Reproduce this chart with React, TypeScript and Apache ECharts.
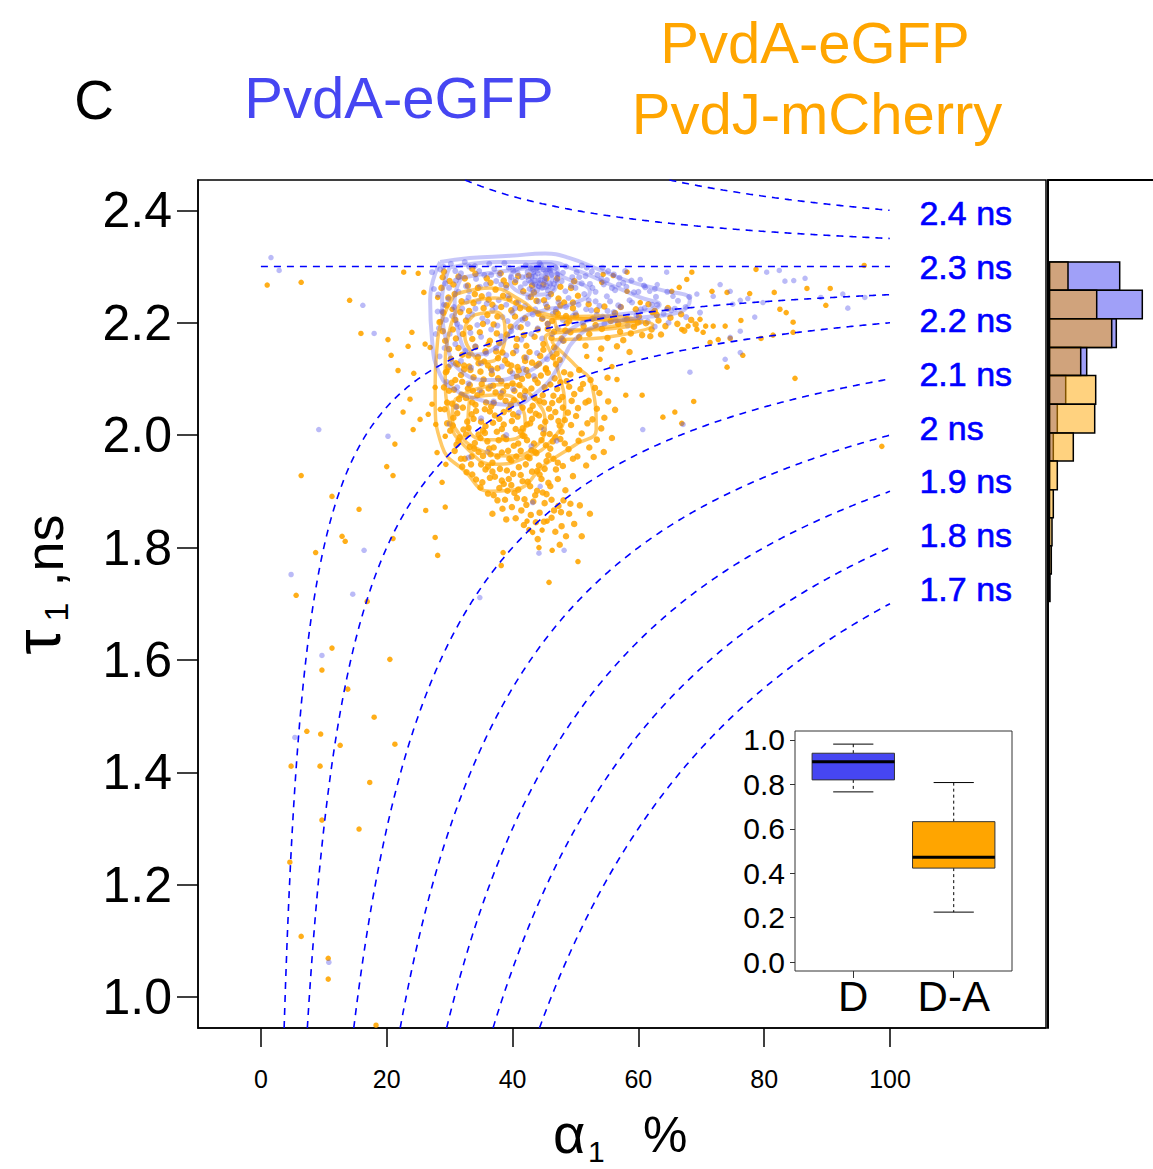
import React, { useEffect, useRef } from "react";
import * as echarts from "echarts";

// ---------- axes ----------
const X_MIN = -10;
const X_MAX = 124.8;
const Y_MIN = 0.945;
const Y_MAX = 2.454;
const xTicks = [0, 20, 40, 60, 80, 100];
const yTicks = [1.0, 1.2, 1.4, 1.6, 1.8, 2.0, 2.2, 2.4];

// ---------- iso-lifetime reference curves (tau_mean = a*tau1 + (1-a)*tau2) ----------
const tau2 = 2.3;
const lifetimeLevels = [2.4, 2.35, 2.3, 2.25, 2.2, 2.1, 2.0, 1.9, 1.8, 1.7];
const lifetimeLabels = ["2.4 ns", "2.3 ns", "2.2 ns", "2.1 ns", "2 ns", "1.9 ns", "1.8 ns", "1.7 ns"];
const lifetimeLabelY = [2.396, 2.3, 2.204, 2.108, 2.013, 1.918, 1.822, 1.727];
const lifetimeLabelX = 104.6;

// ---------- marginal histogram ----------
const histBinEdges = [2.308, 2.258, 2.207, 2.156, 2.106, 2.055, 2.004, 1.954, 1.903, 1.853, 1.803, 1.753, 1.704];
const histBlue = [71.7, 94.3, 68.3, 38.7, 17.7, 9.3, 5.3, 1.5, 0, 0, 0, 0];
const histOrange = [20, 48.7, 63.7, 32.7, 47.7, 46.7, 25.3, 9.3, 5.3, 4, 3.3, 2];

// ---------- inset boxplot ----------
const boxCategories = ["D", "D-A"];
const boxStats = [
  [0.766, 0.82, 0.902, 0.94, 0.981],
  [0.225, 0.423, 0.472, 0.632, 0.808],
];
const boxTicks = [0, 0.2, 0.4, 0.6, 0.8, 1.0];

// ---------- scatter: PvdA-eGFP + PvdJ-mCherry (orange) ----------
const orangeSparse = [
  [11.3,1.891],[15.6,1.868],[12.9,1.82],[13.4,1.811],[8.7,1.791],[21.0,1.816],[27.7,1.818],[28.1,1.786],[26.2,1.866],[29.3,1.872],[28.8,1.916],
  [5.6,1.715],[16.9,1.704],[11.3,1.621],[20.5,1.601],[9.7,1.582],[13.8,1.548],[18.0,1.498],[7.3,1.473],[9.5,1.468],[12.6,1.448],[21.3,1.45],
  [4.8,1.411],[9.4,1.411],[17.3,1.382],[9.7,1.315],[15.6,1.299],[4.6,1.24],[6.4,1.108],[10.7,1.069],[10.7,1.032],[18.3,0.95],
  [38.2,1.768],[38.5,1.791],[45.8,1.738],[50.4,1.775],[44.2,1.8],[46.3,1.795],[45.5,1.847],[44.7,1.831],[42.6,1.832],[43.2,1.827],[42.3,1.847],
  [1.0,2.267],[6.4,2.272],[14.1,2.24],[15.9,2.181],[20.2,2.17],[20.7,2.142],[23.4,2.158],[21.8,2.115],[24.3,2.11],[6.4,1.928],[21.3,1.984],
  [20.0,1.944],[21.0,1.928],[22.6,2.041],[24.2,2.01],
  [22.7,2.29],[25.0,2.288],[25.9,2.254],[28.1,2.245],[30.4,2.224],[28.5,2.202],[26.9,2.156],[24.0,2.183],[26.1,2.162],[29.6,2.114],[27.7,2.085],
  [27.2,2.055],[28.5,2.046],[26.6,2.037],[27.8,2.019],[29.3,1.998],[28.0,1.969],[29.4,1.948],[25.3,2.028],[23.7,2.064],
  [95.9,2.302],[78.7,2.295],[90.5,2.261],[86.8,2.261],[81.6,2.254],[77.7,2.252],[74.1,2.254],[71.7,2.256],[89.8,2.231],[83.5,2.218],[82.5,2.224],
  [84.6,2.201],[84.6,2.183],[81.4,2.178],[79.5,2.172],[76.3,2.204],[76.6,2.142],[73.8,2.194],[74.6,2.172],[71.9,2.194],[70.7,2.194],[69.8,2.206],
  [84.9,2.101],[74.1,2.121],[68.8,2.06],[63.9,2.032],[65.8,2.041],[66.9,2.021],[58.0,2.071],[60.6,2.071],[56.6,2.099],[55.8,2.122],[53.9,2.135],
  [51.8,2.14],[68.5,2.29],[67.7,2.277],[66.5,2.263],[65.3,2.256],[58.2,2.29],[56.0,2.284],[54.4,2.286],[54.2,2.272],[58.2,2.256],[60.3,2.236],
  [62.2,2.218],[67.9,2.194],[66.9,2.188],[69.3,2.188],[70.3,2.183],[71.4,2.165],[72.7,2.17],[98.7,1.98],
];
const orangeCore = [
  [29.4,2.112],[30.9,2.098],[32.3,2.117],[33.8,2.103],[35.1,2.091],[36.7,2.109],[38.2,2.096],[39.6,2.114],[41.1,2.089],[42.5,2.106],[44.0,2.093],[45.6,2.111],[47.1,2.082],
  [29.9,2.079],[31.5,2.064],[32.9,2.083],[34.4,2.071],[35.8,2.058],[37.3,2.076],[38.9,2.061],[40.3,2.079],[41.8,2.066],[43.2,2.052],[44.8,2.071],[46.3,2.057],[47.9,2.068],
  [29.2,2.046],[30.6,2.031],[32.1,2.049],[33.5,2.037],[35.0,2.024],[36.4,2.042],[37.9,2.029],[39.4,2.046],[40.8,2.033],[42.3,2.019],[43.7,2.038],[45.2,2.024],[46.8,2.041],[48.3,2.027],
  [30.1,2.008],[31.6,1.996],[33.0,2.013],[34.6,2.001],[36.0,1.989],[37.5,2.006],[39.0,1.993],[40.5,2.011],[41.9,1.998],[43.4,1.985],[44.9,2.003],[46.4,1.989],[47.8,2.006],
  [30.8,1.972],[32.4,1.958],[33.9,1.976],[35.3,1.963],[36.8,1.951],[38.3,1.969],[39.8,1.955],[41.3,1.972],[42.7,1.959],[44.2,1.946],[45.7,1.964],[47.2,1.951],
  [32.7,1.934],[34.2,1.921],[35.7,1.939],[37.2,1.926],[38.6,1.913],[40.1,1.931],[41.6,1.918],[43.1,1.935],[44.6,1.922],[46.0,1.909],
  [36.1,1.896],[37.6,1.884],[39.2,1.901],[40.7,1.888],[42.2,1.876],[43.6,1.893],[45.1,1.879],[46.6,1.866],[48.1,1.884],
  [30.3,2.093],[31.8,2.107],[33.2,2.089],[34.9,2.113],[36.2,2.083],[37.7,2.101],[39.1,2.087],[40.7,2.104],[42.0,2.078],[43.6,2.099],[45.1,2.085],[46.7,2.101],
  [30.4,2.056],[31.9,2.072],[33.6,2.058],[35.1,2.076],[36.6,2.051],[38.1,2.068],[39.7,2.055],[41.2,2.071],[42.8,2.044],[44.3,2.061],[45.8,2.047],[47.4,2.062],
  [29.6,2.021],[31.2,2.039],[32.8,2.024],[34.2,2.043],[35.7,2.016],[37.2,2.035],[38.6,2.019],[40.1,2.037],[41.6,2.012],[43.1,2.029],[44.5,2.014],[46.1,2.032],[47.5,2.017],
  [31.1,1.983],[32.6,2.001],[34.0,1.986],[35.6,2.004],[37.0,1.978],[38.6,1.996],[40.2,1.981],[41.6,1.999],[43.0,1.973],[44.6,1.991],[46.0,1.976],[47.6,1.993],
  [32.0,1.944],[33.5,1.962],[35.0,1.948],[36.5,1.966],[38.0,1.94],[39.5,1.958],[41.0,1.943],[42.4,1.961],[43.9,1.936],[45.4,1.954],[46.9,1.939],
  [34.9,1.907],[36.4,1.924],[37.9,1.906],[39.4,1.922],[40.9,1.903],[42.4,1.917],[43.9,1.901],[45.4,1.895],
  [29.8,2.121],[31.3,2.126],[33.1,2.122],[34.6,2.128],[36.1,2.124],[37.6,2.119],[39.2,2.127],[40.8,2.121],[42.2,2.116],[43.8,2.124],[45.3,2.119],[46.9,2.126],[48.2,2.112],
  [29.1,2.085],[30.7,2.081],[32.0,2.095],[33.7,2.079],[35.4,2.099],[36.9,2.088],[38.5,2.078],[40.0,2.092],[41.5,2.1],[43.0,2.083],[44.5,2.106],[46.0,2.09],[47.6,2.094],[49.0,2.086],
  [29.6,2.058],[31.1,2.051],[32.6,2.066],[34.1,2.054],[35.6,2.046],[37.0,2.057],[38.6,2.041],[40.2,2.062],[41.6,2.049],[43.5,2.066],[45.0,2.058],[46.5,2.07],[48.0,2.049],[49.4,2.061],
  [30.5,2.017],[32.2,2.01],[33.8,2.029],[35.3,2.008],[36.9,2.022],[38.3,2.011],[39.9,2.025],[41.3,2.006],[42.8,2.021],[44.2,2.035],[45.9,2.002],[47.3,2.025],[48.8,2.04],
  [31.4,1.99],[33.2,1.979],[34.9,1.995],[36.3,1.976],[37.8,1.991],[39.3,1.972],[40.9,1.985],[42.3,1.991],[43.8,1.968],[45.3,1.982],[46.8,1.996],[48.3,1.985],
  [31.8,1.958],[33.4,1.948],[34.6,1.97],[36.1,1.944],[37.6,1.962],[39.1,1.937],[40.6,1.962],[42.1,1.948],[43.6,1.97],[45.1,1.94],[46.5,1.958],[48.0,1.945],
  [33.6,1.93],[35.2,1.916],[36.8,1.935],[38.3,1.919],[39.8,1.911],[41.3,1.929],[42.8,1.909],[44.3,1.93],[45.7,1.915],[47.2,1.922],
  [37.0,1.893],[38.8,1.885],[40.3,1.897],[41.9,1.886],[43.3,1.882],[44.8,1.898],[46.2,1.885],[47.7,1.863],[49.2,1.878],
  [48.6,2.096],[49.8,2.073],[51.2,2.091],[50.4,2.048],[52.1,2.061],[49.3,2.018],[51.0,2.003],[52.7,2.028],[48.9,1.975],[50.3,1.962],[53.4,1.992],
  [54.6,2.031],[53.8,2.075],[55.1,2.102],[51.7,1.946],[49.6,1.927],[48.4,1.902],[47.3,1.874],[46.2,1.853],[44.3,1.862],[42.9,1.858],[41.4,1.866],
  [39.9,1.872],[38.4,1.869],[45.0,1.846],[47.8,1.838],[49.0,1.86],
  [49.2,2.108],[50.6,2.116],[52.4,2.098],[50.8,2.082],[53.1,2.084],[51.6,2.058],[53.4,2.047],[50.1,2.034],[51.9,2.021],[54.1,2.012],[50.5,1.99],
  [52.2,1.978],[49.6,1.958],[52.9,1.961],[55.2,2.06],[56.3,2.045],[55.8,1.995],[54.5,1.97],
  [40.5,1.852],[43.7,1.845],[46.8,1.828],[48.5,1.82],[44.0,1.815],[41.8,1.84],[47.5,1.805],[49.8,1.842],[51.0,1.82],[39.0,1.85],[36.8,1.86],[52.3,1.86],[50.7,1.875],
];
const orangeUpper = [
  [29.1,2.291],[31.4,2.282],[33.6,2.296],[35.9,2.279],[38.1,2.288],[40.4,2.272],[42.6,2.284],[44.9,2.268],[47.1,2.279],[49.3,2.262],
  [28.7,2.262],[30.8,2.251],[32.9,2.266],[35.1,2.247],[37.3,2.259],[39.5,2.243],[41.7,2.256],[43.8,2.239],[46.1,2.251],[48.2,2.236],[50.4,2.248],
  [29.5,2.231],[31.7,2.219],[33.8,2.235],[36.0,2.214],[38.2,2.228],[40.4,2.211],[42.6,2.224],[44.7,2.207],[46.9,2.219],[49.0,2.203],
  [28.4,2.201],[30.5,2.188],[32.6,2.204],[34.8,2.183],[37.0,2.197],[39.1,2.179],[41.3,2.192],[43.5,2.175],[45.6,2.189],[47.8,2.172],
  [29.3,2.168],[31.4,2.155],[33.6,2.171],[35.7,2.149],[37.9,2.164],[40.1,2.146],[42.2,2.159],[44.4,2.141],[46.6,2.156],
  [30.2,2.136],[32.3,2.124],[34.5,2.139],[36.6,2.118],[38.8,2.133],[41.0,2.115],[43.1,2.129],[45.3,2.117],[47.5,2.134],
  [30.0,2.274],[34.5,2.262],[39.0,2.267],[43.4,2.254],[36.8,2.232],[41.2,2.226],[45.5,2.228],[32.1,2.18],[36.4,2.168],[40.7,2.171],[44.9,2.162],
  [33.0,2.142],[37.4,2.149],[41.9,2.138],
  [28.9,2.281],[30.6,2.268],[32.4,2.279],[34.1,2.287],[36.5,2.271],[38.6,2.275],[40.9,2.283],[43.1,2.266],[45.4,2.279],[47.6,2.264],[49.8,2.274],
  [29.8,2.245],[31.9,2.238],[34.0,2.251],[36.2,2.241],[38.5,2.248],[40.6,2.236],[42.9,2.246],[45.0,2.24],[47.3,2.243],[49.6,2.226],
  [29.0,2.218],[30.9,2.205],[33.1,2.221],[35.4,2.226],[37.6,2.211],[39.8,2.222],[42.0,2.208],[44.1,2.216],[46.3,2.203],[48.5,2.212],
  [28.9,2.185],[31.0,2.172],[33.2,2.191],[35.3,2.198],[37.5,2.181],[39.7,2.193],[41.8,2.178],[44.0,2.188],[46.2,2.173],[48.4,2.186],
  [29.9,2.153],[32.0,2.143],[34.1,2.157],[36.2,2.162],[38.4,2.147],[40.6,2.158],[42.7,2.148],[44.9,2.152],[47.0,2.145],
  [31.0,2.128],[33.3,2.116],[35.5,2.131],[37.7,2.137],[39.8,2.124],[42.0,2.132],[44.2,2.127],[46.4,2.139],
];
const orangeTongue = [
  [47.2,2.216],[48.6,2.199],[50.1,2.213],[51.3,2.194],[52.7,2.207],[53.4,2.222],[54.2,2.189],[55.6,2.203],[56.3,2.217],[57.1,2.184],[58.2,2.206],
  [59.3,2.193],[60.1,2.211],[61.2,2.199],[62.1,2.188],[63.2,2.204],[64.3,2.194],[65.1,2.209],[66.2,2.198],[49.2,2.183],[50.6,2.174],[52.2,2.18],
  [55.1,2.173],[57.6,2.169],[60.6,2.178],[63.6,2.179],[47.6,2.231],[49.6,2.236],[52.1,2.233],[54.6,2.229],[57.2,2.228],[59.6,2.224],[62.6,2.221],
  [45.6,2.198],[46.6,2.184],[48.1,2.168],[51.6,2.159],[54.1,2.154],[56.6,2.158],[58.6,2.148],[67.3,2.186],[68.4,2.205],[61.6,2.233],[64.7,2.226],
  [66.8,2.215],[69.1,2.197],[53.2,2.196],[56.8,2.198],[59.9,2.201],[62.9,2.214],[58.8,2.181],[61.9,2.176],
];

// ---------- scatter: PvdA-eGFP (blue) ----------
const blueCore = [
  [28.5,2.295],[30.2,2.305],[31.8,2.288],[33.1,2.3],[34.7,2.292],[36.3,2.305],[37.9,2.285],[39.4,2.298],[40.8,2.288],[42.1,2.302],[43.3,2.29],
  [44.6,2.283],[45.8,2.296],[47.1,2.286],[48.5,2.3],[50.2,2.29],[51.8,2.298],[53.5,2.285],[55.2,2.292],[57.0,2.28],
  [29.3,2.27],[31.0,2.275],[32.6,2.265],[34.2,2.278],[35.8,2.268],[37.4,2.274],[39.0,2.262],[40.5,2.276],[42.0,2.27],[43.5,2.275],[44.2,2.265],
  [45.1,2.272],[46.4,2.262],[47.8,2.274],[49.3,2.266],[51.0,2.27],[52.7,2.262],[54.5,2.268],[56.3,2.258],[58.1,2.264],[60.0,2.255],
  [43.0,2.282],[44.0,2.288],[45.2,2.28],[43.6,2.268],[44.9,2.295],[42.7,2.26],[45.6,2.258],[44.4,2.276],[43.8,2.297],[46.2,2.285],[42.4,2.29],
  [43.2,2.295],[44.5,2.302],[45.9,2.27],[44.1,2.275],[42.9,2.272],[44.7,2.262],[46.6,2.269],[43.6,2.283],[45.3,2.289],[44.0,2.298],[42.2,2.282],
  [46.0,2.294],[43.2,2.258],[45.1,2.276],[44.3,2.27],
  [29.0,2.3],[30.9,2.292],[32.4,2.308],[34.0,2.301],[35.5,2.285],[37.1,2.296],[38.7,2.306],[40.1,2.293],[41.5,2.281],[42.9,2.297],[44.3,2.306],
  [45.5,2.287],[46.8,2.298],[48.0,2.289],[49.5,2.281],[51.0,2.302],[52.6,2.291],[54.3,2.298],[56.1,2.286],[57.9,2.292],
  [29.9,2.262],[31.5,2.281],[33.1,2.256],[34.8,2.264],[36.6,2.285],[38.2,2.268],[39.8,2.281],[41.3,2.263],[42.6,2.276],[43.9,2.258],[45.4,2.266],
  [46.9,2.276],[48.4,2.256],[50.0,2.262],[51.6,2.283],[53.2,2.255],[55.0,2.276],[56.9,2.268],[58.9,2.275],[60.9,2.266],[62.6,2.26],
  [28.2,2.25],[29.8,2.242],[31.4,2.255],[33.0,2.245],[34.6,2.238],[36.2,2.25],[37.8,2.24],[39.3,2.248],[40.9,2.236],[42.5,2.245],[44.1,2.238],
  [45.7,2.246],[47.3,2.236],[48.9,2.244],[50.5,2.232],[52.1,2.24],[53.8,2.23],[55.5,2.238],[57.2,2.228],[59.0,2.236],[61.0,2.226],[63.0,2.232],
  [65.2,2.222],[67.5,2.228],[69.8,2.218],
  [29.1,2.232],[30.7,2.228],[32.7,2.238],[34.1,2.225],[35.9,2.234],[37.3,2.227],[39.0,2.232],[40.4,2.226],[42.0,2.23],[43.6,2.224],[45.3,2.233],
  [46.9,2.224],[48.5,2.228],[50.0,2.217],[51.7,2.224],[53.4,2.214],[55.1,2.221],
  [28.8,2.22],[30.4,2.212],[32.0,2.225],[33.6,2.215],[35.2,2.208],[36.8,2.222],[38.4,2.21],[40.0,2.218],[41.6,2.205],[43.2,2.215],[44.8,2.208],
  [46.4,2.216],[48.0,2.205],[49.6,2.212],[51.2,2.2],[52.9,2.208],[54.6,2.198],[56.4,2.205],[58.3,2.195],[60.4,2.202],[62.6,2.193],[64.8,2.2],
  [29.4,2.205],[31.2,2.198],[32.9,2.21],[34.4,2.196],[36.0,2.202],[37.6,2.195],[39.2,2.203],[40.8,2.192],[42.4,2.198],[44.0,2.19],[45.6,2.198],[47.2,2.19],
  [28.3,2.19],[30.0,2.18],[31.7,2.192],[33.3,2.182],[35.0,2.175],[36.6,2.188],[38.2,2.176],[39.8,2.185],[41.4,2.17],[43.0,2.18],[44.7,2.172],
  [46.3,2.18],[48.0,2.168],[29.2,2.155],[30.9,2.162],[32.5,2.15],[34.1,2.158],[35.8,2.145],[37.4,2.155],[39.0,2.142],[40.6,2.15],[42.2,2.138],
  [43.9,2.146],[45.5,2.135],[30.1,2.125],[31.8,2.132],[33.4,2.12],[35.0,2.128],[36.7,2.115],[38.3,2.122],[40.0,2.11],[41.7,2.118],[43.4,2.105],
  [29.5,2.095],[31.2,2.085],[33.0,2.092],[34.8,2.08],[36.5,2.088],[38.2,2.075],[40.1,2.082],[42.0,2.07],
  [31.0,2.05],[35.0,2.03],[39.0,2.0],[43.0,1.98],[33.0,1.96],[37.0,2.06],[41.0,2.04],[45.0,2.01],[36.0,1.97],[47.0,1.99],[30.0,2.02],
  [27.5,2.26],[28.1,2.22],[27.8,2.18],[28.4,2.14],[27.2,2.29],
  [50.6,2.281],[52.3,2.269],[54.1,2.278],[55.8,2.262],[57.6,2.271],[59.3,2.254],[61.1,2.263],[62.8,2.246],[64.6,2.255],[66.3,2.239],[68.1,2.246],
  [51.4,2.251],[53.2,2.238],[55.0,2.247],[56.8,2.231],[58.6,2.24],[60.4,2.224],[62.2,2.232],[64.0,2.216],[65.8,2.225],[67.6,2.21],
  [52.5,2.222],[54.3,2.211],[56.1,2.219],[57.9,2.206],[59.7,2.213],[61.5,2.202],
];
const blueSparse = [
  [80.4,2.29],[82.4,2.293],[83.3,2.274],[84.7,2.275],[86.5,2.279],[89.0,2.245],[92.5,2.251],[93.3,2.226],[96.0,2.245],[73.0,2.268],[74.6,2.256],
  [76.2,2.24],[77.4,2.243],[79.8,2.236],[78.5,2.21],[76.2,2.185],[74.6,2.174],[73.8,2.135],[76.2,2.147],[68.2,2.112],[64.5,2.224],[65.5,2.247],
  [63.0,2.268],[61.8,2.256],[60.3,2.277],[64.5,2.29],[69.3,2.251],[71.9,2.247],[75.0,2.233],[67.1,2.019],[60.7,2.01],
  [1.6,2.316],[2.9,2.293],[16.2,2.231],[18.0,2.181],[9.2,2.01],[20.2,1.998],[4.8,1.752],[16.4,1.795],[14.6,1.717],[9.7,1.608],[5.4,1.462],
  [10.8,1.062],[34.8,1.711],[44.4,1.909],[43.2,1.88],[44.2,1.79],[48.2,1.795],
];

// ---------- density contours ----------
const blueContours = [
  [[28.5,2.308],[33.2,2.315],[39.6,2.319],[45.2,2.323],[49.1,2.315],[53.9,2.294],[58.7,2.273],[63.4,2.259],[68.2,2.241],[66.6,2.219],[60.3,2.209],[53.9,2.196],[49.9,2.17],[47.5,2.125],[44.4,2.081],[39.6,2.054],[34.8,2.063],[30.8,2.081],[28.5,2.107],[27.2,2.17],[26.9,2.241],[28.5,2.308]],
  [[30.0,2.298],[38.0,2.308],[45.2,2.308],[50.0,2.294],[55.5,2.268],[60.3,2.245],[63.4,2.232],[60.3,2.22],[53.9,2.209],[49.1,2.187],[45.9,2.143],[41.2,2.107],[36.4,2.098],[31.9,2.113],[29.6,2.161],[28.8,2.241],[30.0,2.298]],
  [[31.9,2.28],[38.0,2.291],[44.4,2.298],[48.3,2.28],[52.3,2.255],[49.1,2.232],[45.2,2.223],[41.2,2.205],[38.0,2.161],[34.0,2.143],[31.3,2.187],[30.8,2.241],[31.9,2.28]],
  [[41.2,2.298],[45.2,2.305],[47.2,2.291],[46.7,2.259],[43.6,2.25],[40.4,2.259],[39.6,2.28],[41.2,2.298]],
  [[43.6,2.291],[45.6,2.294],[46.3,2.276],[45.2,2.262],[43.6,2.267],[43.1,2.28],[43.6,2.291]],
];
const orangeContours = [
  [[30.8,2.25],[36.4,2.262],[41.2,2.241],[45.9,2.209],[53.9,2.205],[62.3,2.196],[55.5,2.175],[46.3,2.166],[49.9,2.125],[52.6,2.09],[53.3,2.01],[50.0,1.983],[45.2,1.948],[40.4,1.903],[36.4,1.9],[32.4,1.936],[28.8,1.98],[27.7,2.064],[28.1,2.17],[30.8,2.25]],
  [[31.6,2.232],[37.2,2.244],[42.8,2.223],[49.1,2.209],[57.1,2.205],[60.3,2.2],[57.1,2.191],[49.1,2.184],[45.2,2.173],[47.2,2.116],[48.3,2.045],[46.3,1.992],[42.0,1.96],[37.2,1.948],[32.9,1.975],[30.0,2.028],[29.3,2.116],[30.0,2.187],[31.6,2.232]],
  [[30.8,2.063],[34.8,2.084],[39.6,2.09],[43.6,2.063],[45.2,2.018],[43.6,1.979],[39.6,1.963],[34.8,1.974],[31.6,2.001],[30.4,2.037],[30.8,2.063]],
  [[34.0,2.214],[37.2,2.219],[38.8,2.187],[38.0,2.143],[35.6,2.13],[33.2,2.152],[32.4,2.187],[34.0,2.214]],
  [[33.2,2.066],[38.0,2.072],[41.2,2.054],[42.0,2.018],[39.6,1.992],[35.6,1.992],[32.9,2.018],[33.2,2.066]],
  [[46.7,2.209],[53.9,2.212],[59.5,2.205],[55.5,2.193],[47.5,2.187],[46.7,2.209]],
];

const FONT = "'Liberation Sans', Arial, Helvetica, sans-serif";
const BLUE = "#4646f2";
const ORANGE = "#ffa500";

function isoCurve(T: number): number[][] {
  const pts: number[][] = [];
  if (Math.abs(T - tau2) < 1e-9) {
    pts.push([0, T], [100, T]);
    return pts;
  }
  const bound = T > tau2 ? Y_MAX : Y_MIN;
  const a0 = (T - tau2) / (bound - tau2);
  for (let x = a0 * 100; x < 100; x += 0.25) {
    pts.push([x, tau2 + (T - tau2) / (x / 100)]);
  }
  pts.push([100, T]);
  return pts;
}

export default function App() {
  const ref = useRef<HTMLDivElement>(null);
  useEffect(() => {
    if (!ref.current) return;
    const chart = echarts.init(ref.current, undefined, { renderer: "svg" });

    const series: any[] = [];
    const orangeDense = [...orangeCore, ...orangeUpper, ...orangeTongue];

    series.push({
      type: "scatter", xAxisIndex: 0, yAxisIndex: 0, data: orangeSparse, symbolSize: 5.5,
      itemStyle: { color: ORANGE, opacity: 0.9 }, z: 3, silent: true,
    });
    series.push({
      type: "scatter", xAxisIndex: 0, yAxisIndex: 0, data: orangeDense, symbolSize: 6.5,
      itemStyle: { color: ORANGE, opacity: 0.85 }, z: 3, silent: true,
    });
    series.push({
      type: "scatter", xAxisIndex: 0, yAxisIndex: 0, data: blueCore, symbolSize: 6,
      itemStyle: { color: "rgb(90,90,235)", opacity: 0.42 }, z: 4, silent: true,
    });
    series.push({
      type: "scatter", xAxisIndex: 0, yAxisIndex: 0, data: blueSparse, symbolSize: 5.5,
      itemStyle: { color: "rgb(90,90,235)", opacity: 0.42 }, z: 4, silent: true,
    });
    orangeContours.forEach((c) => series.push({
      type: "line", xAxisIndex: 0, yAxisIndex: 0, data: c, smooth: 0.5, showSymbol: false, symbol: "none",
      lineStyle: { color: "rgba(255,165,0,0.6)", width: 3.5 }, z: 5, silent: true,
    }));
    blueContours.forEach((c) => series.push({
      type: "line", xAxisIndex: 0, yAxisIndex: 0, data: c, smooth: 0.5, showSymbol: false, symbol: "none",
      lineStyle: { color: "rgba(80,80,235,0.32)", width: 4 }, z: 5, silent: true,
    }));
    lifetimeLevels.forEach((T) => series.push({
      type: "line", xAxisIndex: 0, yAxisIndex: 0, data: isoCurve(T), showSymbol: false, symbol: "none",
      lineStyle: { color: "#0000ff", width: 1.6, type: [7, 6] }, z: 7, silent: true,
    }));
    series.push({
      type: "scatter", xAxisIndex: 0, yAxisIndex: 0, symbolSize: 1, z: 8, silent: true,
      itemStyle: { color: "rgba(0,0,0,0)" },
      data: lifetimeLabelY.map((y, i) => ({ value: [lifetimeLabelX, y], name: lifetimeLabels[i] })),
      label: {
        show: true, position: "right", distance: 0, formatter: (p: any) => p.name,
        color: "#0000ff", opacity: 1, fontSize: 34, fontFamily: FONT,
        textBorderColor: "#0000ff", textBorderWidth: 0.6,
      },
    });

    const histSeries = (vals: number[], fill: string, z: number) => ({
      type: "custom", xAxisIndex: 1, yAxisIndex: 1, z, silent: true,
      data: vals.map((v, i) => [histBinEdges[i + 1], histBinEdges[i], v]),
      encode: { x: 2, y: [0, 1] },
      renderItem: (params: any, api: any) => {
        const v = api.value(2);
        if (!(v > 0)) return { type: "group", children: [] };
        const p1 = api.coord([0, api.value(1)]);
        const p2 = api.coord([v, api.value(0)]);
        return {
          type: "rect",
          shape: { x: p1[0] + 1.5, y: p1[1], width: p2[0] - p1[0] - 1.5, height: p2[1] - p1[1] },
          style: { fill, stroke: "#000", lineWidth: 1.5 },
        };
      },
    });
    series.push(histSeries(histBlue, "rgba(65,65,241,0.5)", 3));
    series.push(histSeries(histOrange, "rgba(255,165,0,0.5)", 4));

    series.push({
      type: "custom", xAxisIndex: 2, yAxisIndex: 2, z: 10, silent: true,
      data: boxStats.map((s, i) => [i + 1, ...s]),
      encode: { x: 0, y: [1, 2, 3, 4, 5] },
      renderItem: (params: any, api: any) => {
        const pos = api.value(0);
        const mn = api.value(1), q1 = api.value(2), md = api.value(3), q3 = api.value(4), mx = api.value(5);
        const hw = 0.41, cw = 0.2;
        const c = (x: number, y: number) => api.coord([x, y]);
        const tl = c(pos - hw, q3), br = c(pos + hw, q1);
        const fill = params.dataIndex === 0 ? BLUE : ORANGE;
        const line = (a: number[], b: number[], st: any) => ({
          type: "line", shape: { x1: a[0], y1: a[1], x2: b[0], y2: b[1] }, style: st,
        });
        const dash = { stroke: "#000", lineWidth: 1, lineDash: [3, 3] };
        const solid = { stroke: "#000", lineWidth: 1 };
        return {
          type: "group",
          children: [
            line(c(pos, q3), c(pos, mx), dash),
            line(c(pos, q1), c(pos, mn), dash),
            line(c(pos - cw, mx), c(pos + cw, mx), solid),
            line(c(pos - cw, mn), c(pos + cw, mn), solid),
            { type: "rect", shape: { x: tl[0], y: tl[1], width: br[0] - tl[0], height: br[1] - tl[1] }, style: { fill, stroke: "#333", lineWidth: 1 } },
            line(c(pos - hw, md), c(pos + hw, md), { stroke: "#000", lineWidth: 3 }),
          ],
        };
      },
    });

    const option: any = {
      animation: false,
      backgroundColor: "#fff",
      textStyle: { fontFamily: FONT },
      grid: [
        { left: 198, top: 180, width: 848, height: 848, show: true, borderColor: "#000", borderWidth: 1.5, backgroundColor: "transparent" },
        { left: 1048, top: 180, width: 105, height: 848 },
        { left: 795, top: 731, width: 217, height: 240, show: true, borderColor: "#333", borderWidth: 1, backgroundColor: "#fff", z: 9 },
      ],
      xAxis: [
        {
          gridIndex: 0, type: "value", min: X_MIN, max: X_MAX,
          axisLine: { show: true, onZero: false, lineStyle: { color: "#000", width: 1.5 } },
          axisTick: { show: true, customValues: xTicks, length: 19, lineStyle: { color: "#000", width: 1.5 } },
          axisLabel: { show: true, customValues: xTicks, margin: 38, fontSize: 25, color: "#000", fontFamily: FONT },
          splitLine: { show: false },
        },
        {
          gridIndex: 1, type: "value", min: 0, max: 105, position: "top",
          axisLine: { show: true, onZero: false, lineStyle: { color: "#000", width: 2 } },
          axisTick: { show: false }, axisLabel: { show: false }, splitLine: { show: false },
        },
        {
          gridIndex: 2, type: "value", min: 0.42, max: 2.58,
          axisLine: { show: false, onZero: false },
          axisTick: { show: true, customValues: [1, 2], length: 7, lineStyle: { color: "#333" } },
          axisLabel: { show: true, customValues: [1, 2], formatter: (v: number) => boxCategories[Math.round(v) - 1], margin: 4, fontSize: 42, color: "#000", fontFamily: FONT },
          splitLine: { show: false }, z: 10,
        },
      ],
      yAxis: [
        {
          gridIndex: 0, type: "value", min: Y_MIN, max: Y_MAX,
          axisLine: { show: true, onZero: false, lineStyle: { color: "#000", width: 1.5 } },
          axisTick: { show: true, customValues: yTicks, length: 21, lineStyle: { color: "#000", width: 1.5 } },
          axisLabel: { show: true, customValues: yTicks, formatter: (v: number) => v.toFixed(1), margin: 26, fontSize: 50, color: "#000", fontFamily: FONT },
          splitLine: { show: false },
        },
        {
          gridIndex: 1, type: "value", min: Y_MIN, max: Y_MAX,
          axisLine: { show: true, onZero: false, lineStyle: { color: "#000", width: 2 } },
          axisTick: { show: false }, axisLabel: { show: false }, splitLine: { show: false },
        },
        {
          gridIndex: 2, type: "value", min: -0.04, max: 1.04,
          axisLine: { show: false, onZero: false },
          axisTick: { show: true, customValues: boxTicks, length: 5, lineStyle: { color: "#333" } },
          axisLabel: { show: true, customValues: boxTicks, formatter: (v: number) => v.toFixed(1), margin: 10, fontSize: 30, color: "#000", fontFamily: FONT },
          splitLine: { show: false }, z: 10,
        },
      ],
      graphic: [
        { type: "text", x: 94, y: 100, style: { text: "C", fontSize: 55, fontFamily: FONT, fill: "#000", align: "center", verticalAlign: "middle" } },
        { type: "text", x: 399, y: 97, style: { text: "PvdA-eGFP", fontSize: 58, fontFamily: FONT, fill: BLUE, align: "center", verticalAlign: "middle" } },
        { type: "text", x: 815, y: 42, style: { text: "PvdA-eGFP", fontSize: 58, fontFamily: FONT, fill: ORANGE, align: "center", verticalAlign: "middle" } },
        { type: "text", x: 817, y: 113, style: { text: "PvdJ-mCherry", fontSize: 58, fontFamily: FONT, fill: ORANGE, align: "center", verticalAlign: "middle" } },
        { type: "text", x: 553, y: 1133, style: { text: "α", fontSize: 56, fontFamily: FONT, fill: "#000", align: "left", verticalAlign: "middle" } },
        { type: "text", x: 588, y: 1151, style: { text: "1", fontSize: 30, fontFamily: FONT, fill: "#000", align: "left", verticalAlign: "middle" } },
        { type: "text", x: 643, y: 1135, style: { text: "%", fontSize: 50, fontFamily: FONT, fill: "#000", align: "left", verticalAlign: "middle" } },
        { type: "text", x: 38, y: 642, rotation: Math.PI / 2, style: { text: "τ", fontSize: 64, fontFamily: FONT, fill: "#000", align: "center", verticalAlign: "middle" } },
        { type: "text", x: 56, y: 612, rotation: Math.PI / 2, style: { text: "1", fontSize: 34, fontFamily: FONT, fill: "#000", align: "center", verticalAlign: "middle" } },
        { type: "text", x: 44, y: 558, rotation: Math.PI / 2, style: { text: " ,ns", fontSize: 54, fontFamily: FONT, fill: "#000", align: "center", verticalAlign: "middle" } },
      ],
      series,
    };
    chart.setOption(option);
    return () => chart.dispose();
  }, []);
  return <div ref={ref} style={{ position: "fixed", left: 0, top: 0, width: 1153, height: 1169, background: "#fff" }} />;
}
